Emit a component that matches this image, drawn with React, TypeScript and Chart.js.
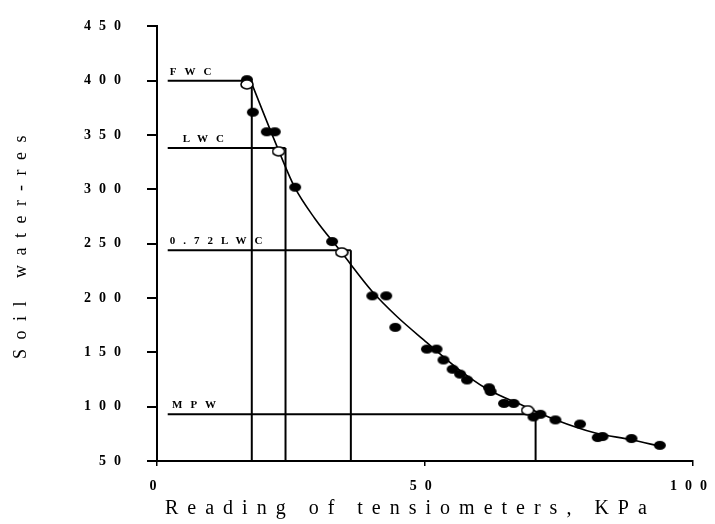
import { useEffect, useRef } from "react";
import { Chart, registerables } from "chart.js";

Chart.register(...registerables);

// ---- data ----
const xTickValues = [0, 50, 100];
const yTickValues = [50, 100, 150, 200, 250, 300, 350, 400, 450];

const dotX = [16.8, 17.9, 20.5, 22.0, 25.8, 32.7, 40.2, 42.8, 44.5, 50.4, 52.2, 53.5, 55.2, 56.6, 57.9, 62.0, 62.3, 64.8, 66.6, 70.3, 71.6, 74.4, 79.0, 82.3, 83.2, 88.6, 93.9];
const dotY = [401, 371, 353, 353, 302, 252, 202, 202, 173, 153, 153, 143, 134.5, 130, 124.6, 117.4, 114, 103, 103, 90.5, 93, 87.8, 84, 71.6, 72.5, 70.7, 64.4];

const openX = [16.8, 22.7, 34.5, 69.2];
const openY = [396.6, 335, 242, 96.7];

const curveX = [17.4, 22.7, 25.7, 29.5, 34.3, 40.2, 44.8, 50.4, 55.9, 61.4, 68.8, 74.4, 81.7, 88.6, 94.0];
const curveY = [401, 336, 302, 273, 243, 206, 183, 159, 136, 117, 100, 88, 76, 69.5, 63.5];

const refNames = ["FWC", "LWC", "0.72LWC", "MPW"];
const refLevel = [400, 338, 244, 93];
const refEndX = [17.7, 24.0, 36.2, 70.7];
const refStartX = 2;
const refLabelX = [2.4, 4.8, 2.4, 2.8];

const xTitle = "Reading of tensiometers, KPa";
const yTitle = "Soil water-res";

function ellipse(filled: boolean) {
  const c = document.createElement("canvas");
  c.width = 14;
  c.height = 11;
  const g = c.getContext("2d")!;
  g.beginPath();
  g.ellipse(7, 5.5, 6, 4.5, 0, 0, Math.PI * 2);
  g.fillStyle = filled ? "#000" : "#fff";
  g.fill();
  if (!filled) {
    g.lineWidth = 1.6;
    g.strokeStyle = "#000";
    g.stroke();
  }
  return c;
}

const textPlugin = {
  id: "texts",
  beforeDraw(chart: any) {
    chart.ctx.letterSpacing = "8px";
  },
  afterDraw(chart: any) {
    const ctx = chart.ctx as CanvasRenderingContext2D;
    const { chartArea: ca, scales } = chart;
    const x = scales.x;
    const y = scales.y;
    ctx.save();
    ctx.fillStyle = "#000";
    ctx.textBaseline = "alphabetic";
    ctx.textAlign = "left";
    ctx.font = 'bold 11px "Liberation Serif"';
    (ctx as any).letterSpacing = "8px";
    refNames.forEach((n, i) => {
      ctx.fillText(n, x.getPixelForValue(refLabelX[i]), y.getPixelForValue(refLevel[i]) - 6);
    });
    ctx.font = '20px "Liberation Serif"';
    (ctx as any).letterSpacing = "9px";
    ctx.fillText(xTitle, ca.left + 8, 514);
    ctx.font = '18px "Liberation Serif"';
    (ctx as any).letterSpacing = "9.5px";
    ctx.translate(21, 359);
    ctx.rotate(-Math.PI / 2);
    ctx.textBaseline = "middle";
    ctx.fillText(yTitle, 0, 0);
    ctx.restore();
  },
};

export default function App() {
  const ref = useRef<HTMLCanvasElement>(null);
  useEffect(() => {
    document.body.style.margin = "0";
    const refLines: any[] = [];
    refLevel.forEach((lv, i) => {
      refLines.push({
        type: "line",
        data: [
          { x: refStartX, y: lv },
          { x: refEndX[i], y: lv },
        ],
        borderColor: "#000",
        borderWidth: 2,
        pointRadius: 0,
        order: 4,
      });
      refLines.push({
        type: "line",
        data: [
          { x: refEndX[i], y: lv },
          { x: refEndX[i], y: 50 },
        ],
        borderColor: "#000",
        borderWidth: 2,
        pointRadius: 0,
        order: 4,
      });
    });
    const dotImg = ellipse(true);
    const openImg = ellipse(false);
    const chart = new Chart(ref.current!, {
      type: "scatter",
      data: {
        datasets: [
          {
            type: "line",
            data: curveX.map((v, i) => ({ x: v, y: curveY[i] })),
            borderColor: "#000",
            borderWidth: 1.6,
            pointRadius: 0,
            cubicInterpolationMode: "monotone",
            order: 3,
          } as any,
          {
            data: dotX.map((v, i) => ({ x: v, y: dotY[i] })),
            pointStyle: dotImg,
            pointRadius: 6,
            order: 2,
          },
          {
            data: openX.map((v, i) => ({ x: v, y: openY[i] })),
            pointStyle: openImg,
            pointRadius: 6,
            order: 1,
          },
          ...refLines,
        ],
      },
      options: {
        responsive: false,
        animation: false,
        devicePixelRatio: 1,
        layout: { padding: { left: 0, top: 16, right: 18, bottom: 0 } },
        plugins: { legend: { display: false }, tooltip: { enabled: false } },
        scales: {
          x: {
            type: "linear",
            min: 0,
            max: 100,
            afterFit: (s: any) => {
              s.height = 63;
            },
            afterBuildTicks: (s: any) => {
              s.ticks = xTickValues.map((v) => ({ value: v }));
            },
            border: { color: "#000", width: 2 },
            grid: { drawOnChartArea: false, tickLength: 5, color: "#000", lineWidth: 1.5 },
            ticks: {
              autoSkip: false,
              maxRotation: 0,
              padding: 12,
              color: "#000",
              font: { family: "Liberation Serif", size: 14, weight: "bold" },
            },
          },
          y: {
            type: "linear",
            min: 50,
            max: 450,
            afterFit: (s: any) => {
              s.width = 157;
            },
            afterBuildTicks: (s: any) => {
              s.ticks = yTickValues.map((v) => ({ value: v }));
            },
            border: { color: "#000", width: 2 },
            grid: { drawOnChartArea: false, tickLength: 10, color: "#000", lineWidth: 2 },
            ticks: {
              autoSkip: false,
              padding: 18,
              color: "#000",
              font: { family: "Liberation Serif", size: 14, weight: "bold" },
            },
          },
        },
      },
      plugins: [textPlugin],
    } as any);
    return () => chart.destroy();
  }, []);
  return (
    <div style={{ position: "fixed", left: 0, top: 0, width: 715, height: 524, background: "#fff" }}>
      <canvas ref={ref} width={715} height={524} style={{ width: 715, height: 524, display: "block" }} />
    </div>
  );
}
